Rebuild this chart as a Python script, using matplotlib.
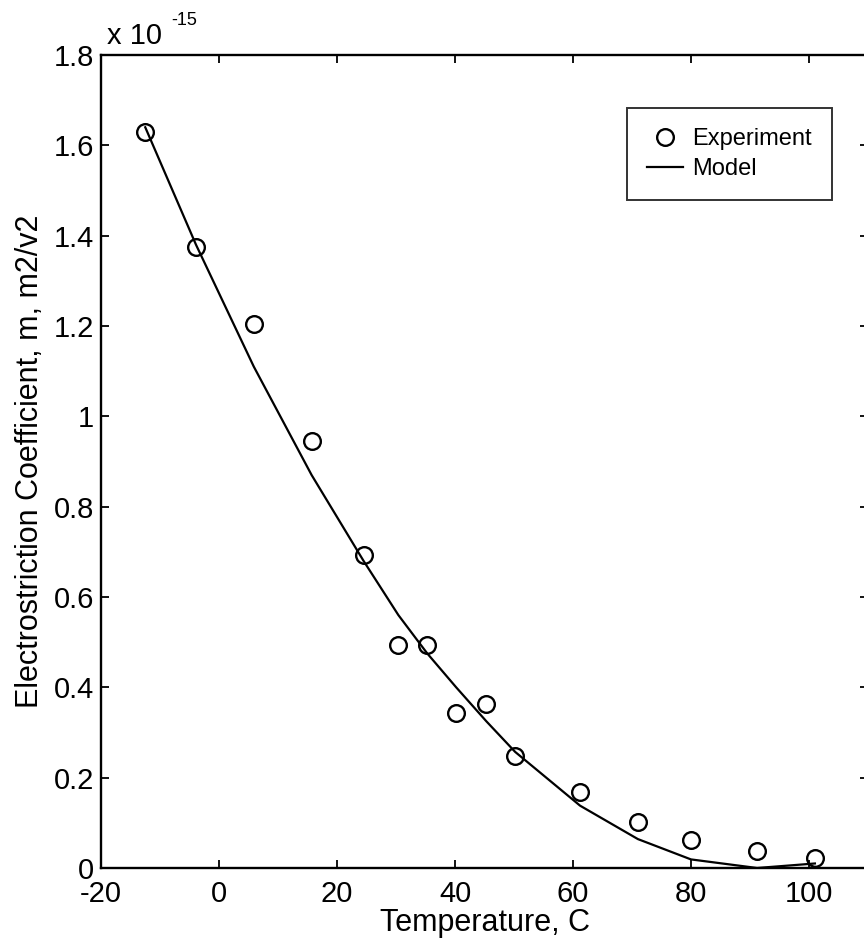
import matplotlib
matplotlib.use("Agg")
import matplotlib.pyplot as plt

plt.rcParams["font.family"] = ["Liberation Sans", "DejaVu Sans"]
plt.rcParams["axes.unicode_minus"] = False

# measured electrostriction coefficient (units of 1e-15 m2/V2)
temp_exp = [-12.5, -3.9, 5.9, 15.7, 24.5, 30.4, 35.3, 40.2, 45.3, 50.2, 61.2, 71.0, 80.0, 91.2, 101.0]
coef_exp = [1.63, 1.375, 1.205, 0.945, 0.693, 0.494, 0.494, 0.343, 0.363, 0.248, 0.168, 0.102, 0.062, 0.038, 0.022]

# model curve sampled at the same temperatures
temp_model = [-12.5, -3.9, 5.9, 15.7, 24.5, 30.4, 35.3, 40.2, 45.3, 50.2, 61.2, 71.0, 80.0, 91.2, 101.0]
coef_model = [1.64, 1.38, 1.11, 0.87, 0.68, 0.56, 0.475, 0.40, 0.325, 0.257, 0.138, 0.064, 0.019, 0.0, 0.01]

xticks = [-20, 0, 20, 40, 60, 80, 100]
yticks = [0, 0.2, 0.4, 0.6, 0.8, 1.0, 1.2, 1.4, 1.6, 1.8]
ytick_labels = ["0", "0.2", "0.4", "0.6", "0.8", "1", "1.2", "1.4", "1.6", "1.8"]

fig = plt.figure(figsize=(8.64, 9.52), dpi=100)
ax = fig.add_axes([101 / 864, 84 / 952, 767 / 864, 813 / 952])

ax.plot(temp_exp, coef_exp, linestyle="none", marker="o", markersize=12,
        markerfacecolor="none", markeredgecolor="black", markeredgewidth=1.7,
        label="Experiment")
ax.plot(temp_model, coef_model, color="black", linewidth=1.6, label="Model")

ax.set_xlim(-20, 110)
ax.set_ylim(0, 1.8)
ax.set_xticks(xticks)
ax.set_yticks(yticks)
ax.set_yticklabels(ytick_labels)
ax.tick_params(direction="in", length=6, width=1.3, top=True, right=True,
               labelsize=21)
ax.tick_params(axis="x", pad=9)
ax.tick_params(axis="y", pad=5)
for spine in ax.spines.values():
    spine.set_linewidth(1.7)

ax.set_xlabel("Temperature, C", fontsize=22, labelpad=0)
ax.set_ylabel("Electrostriction Coefficient, m, m2/v2", fontsize=22, labelpad=6)

# exponent label in the top left corner
fig.text(107 / 864, 1 - 44 / 952, "x 10", fontsize=21, va="baseline", ha="left")
fig.text(171 / 864, 1 - 25 / 952, "-15", fontsize=13, va="baseline", ha="left")

leg = ax.legend(loc="upper left", bbox_to_anchor=(0.686, 0.935), fontsize=17,
                frameon=True, fancybox=False, edgecolor="black",
                handlelength=1.5, handletextpad=0.4, borderpad=0.85,
                labelspacing=0.35, borderaxespad=0)
leg.get_frame().set_linewidth(1.4)

fig.savefig("out.png", dpi=100)
